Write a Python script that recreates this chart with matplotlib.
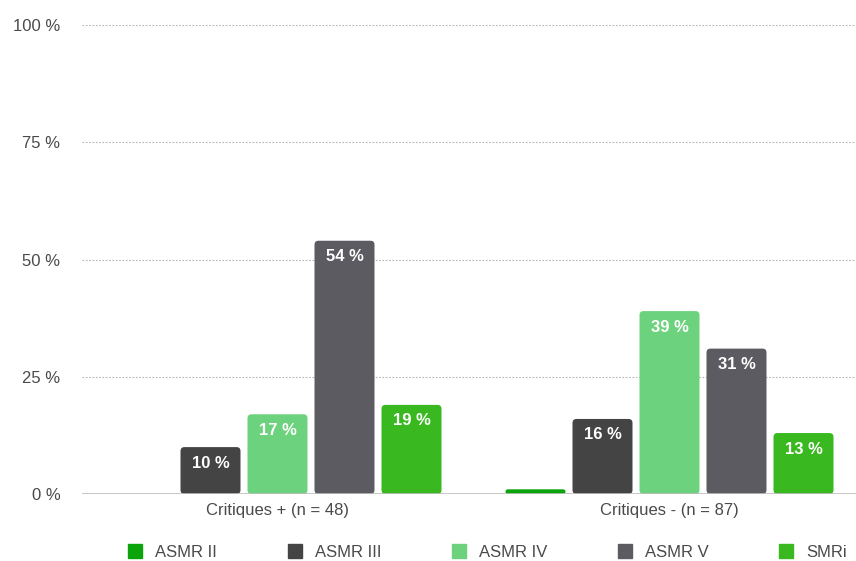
import numpy as np
import matplotlib
matplotlib.use('Agg')
import matplotlib.pyplot as plt
import matplotlib.patches as mpatches
from matplotlib.patches import FancyBboxPatch

groupes = ['Critiques + (n = 48)', 'Critiques - (n = 87)']
series = ['ASMR II', 'ASMR III', 'ASMR IV', 'ASMR V', 'SMRi']
valeurs = {
    'ASMR II': [0, 1],
    'ASMR III': [10, 16],
    'ASMR IV': [17, 39],
    'ASMR V': [54, 31],
    'SMRi': [19, 13],
}
couleurs = ['#0ba40b', '#444444', '#6dd27d', '#5c5b61', '#39b91f']

plt.rcParams['font.family'] = ['Liberation Sans', 'DejaVu Sans']
DPI = 100
fig = plt.figure(figsize=(8.56, 5.61), dpi=DPI)
# axes : x de ~81 px a ~865 px, y de 494 px (0 %) a 25 px (100 %)
ax = fig.add_axes([81.5 / 856, 67 / 561, 784 / 856, 469 / 561])
ax.set_xlim(-0.5, 1.5)
ax.set_ylim(0, 100)

x = np.arange(len(groupes))
pas = 67 / 392
largeur = 60 / 392

# rapport d'echelle pour des coins arrondis
px_x = 2.0 / 784
px_y = 100 / 469
aspect = px_y / px_x
rayon = 4 * px_x

for i, (nom, coul) in enumerate(zip(series, couleurs)):
    pos = x + (i - 2) * pas
    barres = ax.bar(pos, valeurs[nom], width=largeur, color=coul)
    for b, v in zip(barres, valeurs[nom]):
        b.set_visible(False)
        if v <= 0:
            continue
        h = b.get_height()
        r = min(rayon, h / 2 / aspect)
        p = FancyBboxPatch((b.get_x(), 0), b.get_width(), h,
                           boxstyle=f'round,pad=0,rounding_size={r}',
                           mutation_aspect=aspect, fc=coul, ec='none', zorder=3)
        ax.add_patch(p)
        if v >= 5:
            ax.annotate(f'{v} %', (b.get_x() + b.get_width() / 2, h),
                        xytext=(0, -16 * 72 / DPI), textcoords='offset points',
                        ha='center', va='center', color='white',
                        fontsize=12, fontweight='bold', zorder=4)

# grille pointillee
for yv in [25, 50, 75, 100]:
    ax.axhline(yv, color='#b5b5b5', linestyle=(0, (1.5, 1.5)), linewidth=0.8, zorder=1)
ax.axhline(0, color='#bdbdbd', linewidth=1.2, zorder=4)

ax.set_yticks([0, 25, 50, 75, 100])
ax.set_yticklabels([f'{t} %' for t in [0, 25, 50, 75, 100]])
ax.set_xticks(x)
ax.set_xticklabels(groupes)
ax.tick_params(axis='y', length=0, pad=21 * 72 / DPI, labelsize=12, labelcolor='#4a4a4a')
ax.tick_params(axis='x', length=0, pad=9 * 72 / DPI, labelsize=12, labelcolor='#4a4a4a')
for s in ax.spines.values():
    s.set_visible(False)

poignees = [mpatches.Patch(color=c, label=n) for n, c in zip(series, couleurs)]
fig.legend(handles=poignees, loc='center', bbox_to_anchor=(487.5 / 856, 9 / 561),
           ncol=5, frameon=False, fontsize=12, handlelength=0.84, handleheight=0.84,
           handletextpad=0.78, columnspacing=4.24, labelcolor='#4a4a4a')

plt.savefig('out.png', dpi=DPI)
